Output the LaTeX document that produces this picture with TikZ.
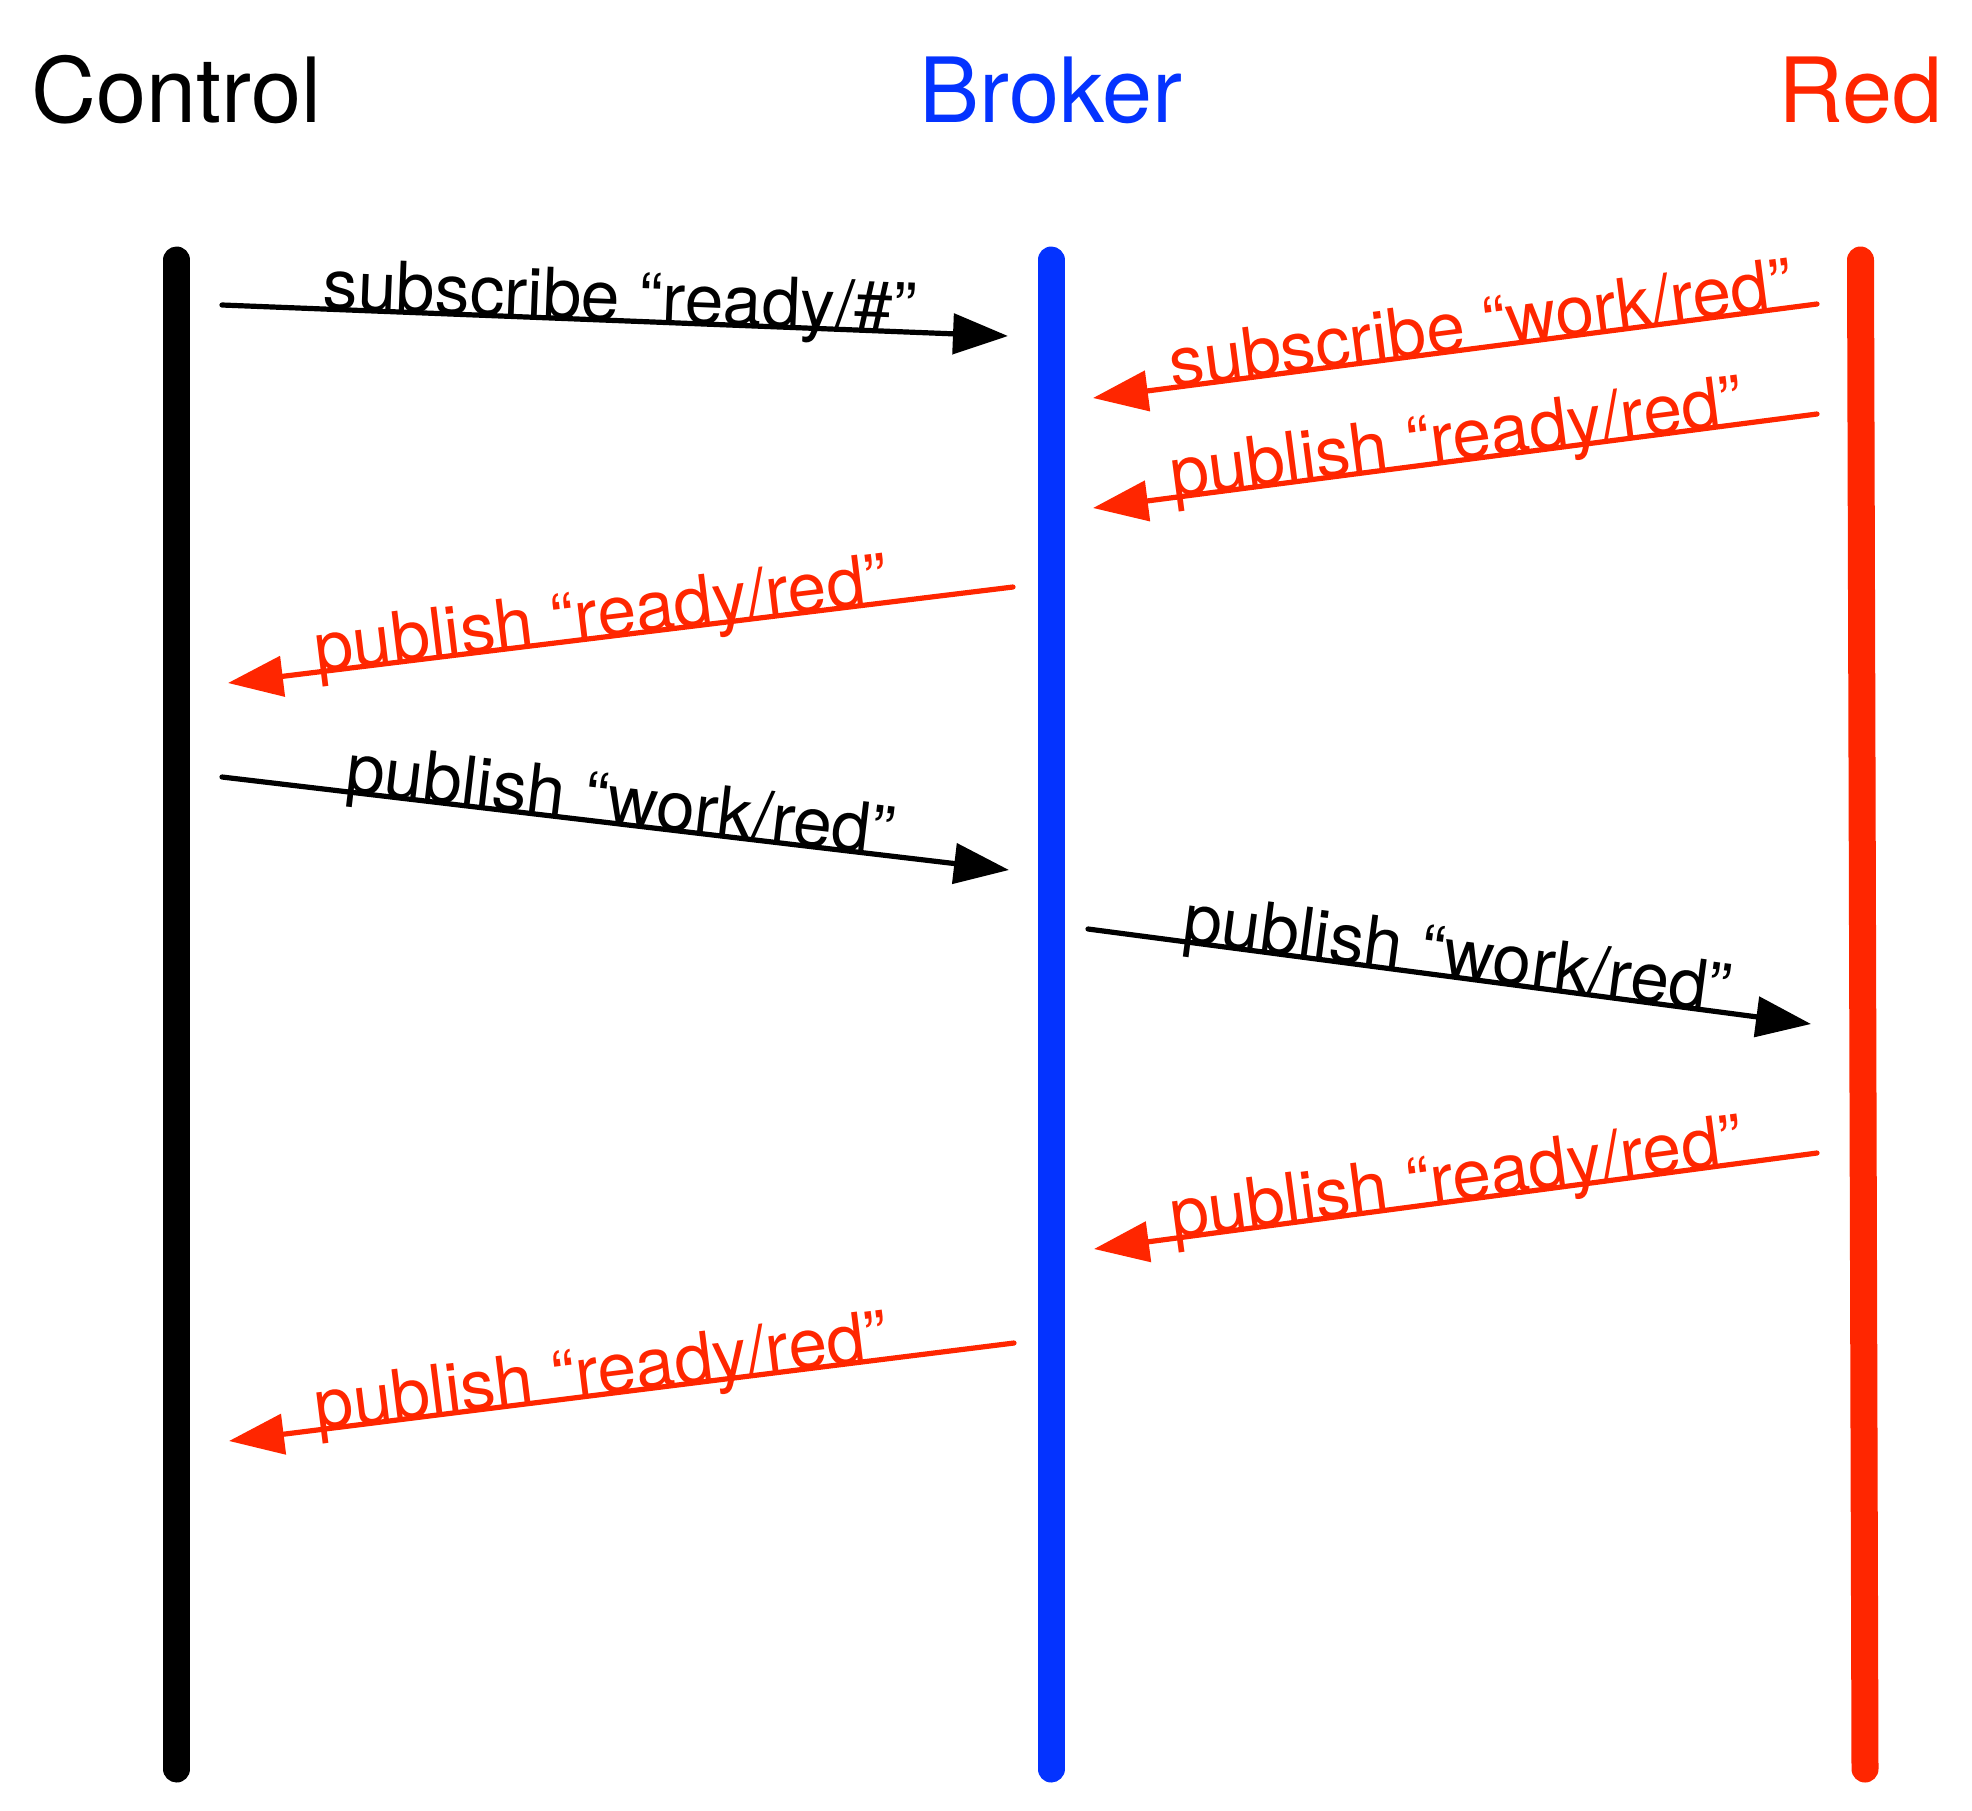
\documentclass[tikz,border=0pt]{standalone}
\usepackage{fontspec}
\setmainfont{TeX Gyre Heros}
\usetikzlibrary{arrows.meta}
\definecolor{ablue}{HTML}{0433FF}
\definecolor{ared}{HTML}{FF2600}
\begin{document}
\begin{tikzpicture}[x=0.5pt,y=-0.5pt,
  title/.style={font=\fontsize{45}{54}\selectfont, anchor=base, inner sep=0pt},
  lifeline/.style={line width=13.5pt, line cap=round},
  msg/.style={line width=2.6pt, line cap=round, -{Triangle[length=27.5pt,width=20pt]}},
  lbl/.style={font=\fontsize{34.7}{40}\selectfont, sloped, anchor=base, inner sep=0pt}]
\useasboundingbox (0,0) rectangle (1972,1811);

% titles
\node[title] (tControl) at (176.7,122) {Control};
\node[title, text=ablue] (tBroker) at (1051,122) {Broker};
\node[title, text=ared] (tRed) at (1860.5,122) {Red};

% lifelines
\coordinate (C0) at (176.7,260); \coordinate (C1) at (176.7,1769);
\coordinate (B0) at (1051,260);  \coordinate (B1) at (1051,1769);
\coordinate (R0) at (1860.5,260); \coordinate (R1) at (1865,1769);
\draw[lifeline, black] (C0) -- (C1);
\draw[lifeline, ablue] (B0) -- (B1);
\draw[lifeline, ared] (R0) -- (R1);

% message end points
\coordinate (m1s) at (222,305);   \coordinate (m1e) at (1008,336);
\coordinate (m2s) at (1817,304);  \coordinate (m2e) at (1093,398);
\coordinate (m3s) at (1817,414);  \coordinate (m3e) at (1093,508);
\coordinate (m4s) at (1013,587);  \coordinate (m4e) at (228,683);
\coordinate (m5s) at (222,777);   \coordinate (m5e) at (1009,870);
\coordinate (m6s) at (1088,929);  \coordinate (m6e) at (1811,1024);
\coordinate (m7s) at (1817,1153); \coordinate (m7e) at (1094,1249);
\coordinate (m8s) at (1014,1343); \coordinate (m8e) at (229,1441);

% messages
\draw[msg, black] (m1s) -- node[lbl, pos=0.505] {subscribe “ready/\#”} (m1e);
\draw[msg, ared] (m2s) -- node[lbl, pos=0.46] {subscribe “work/red”} (m2e);
\draw[msg, ared] (m3s) -- node[lbl, pos=0.494] {publish “ready/red”} (m3e);
\draw[msg, ared] (m4s) -- node[lbl, pos=0.521] {publish “ready/red”} (m4e);
\draw[msg, black] (m5s) -- node[lbl, pos=0.503] {publish “work/red”} (m5e);
\draw[msg, black] (m6s) -- node[lbl, pos=0.507] {publish “work/red”} (m6e);
\draw[msg, ared] (m7s) -- node[lbl, pos=0.495] {publish “ready/red”} (m7e);
\draw[msg, ared] (m8s) -- node[lbl, pos=0.522] {publish “ready/red”} (m8e);
\end{tikzpicture}
\end{document}
